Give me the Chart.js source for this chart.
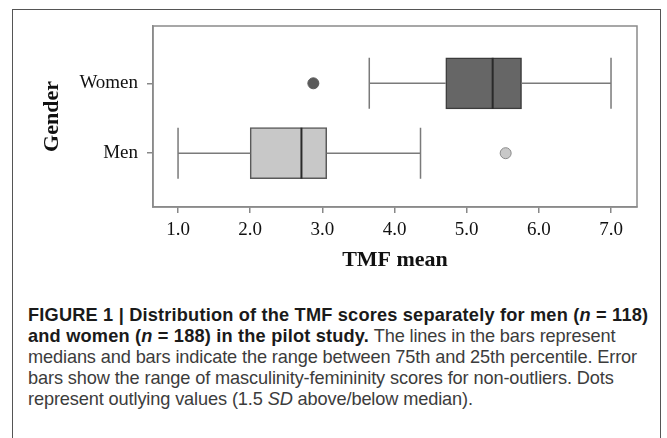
<!DOCTYPE html>
<html>
<head>
<meta charset="utf-8">
<script src="https://cdn.jsdelivr.net/npm/chart.js@4"></script>
<style>
  html, body { margin: 0; padding: 0; background: #fff; }
  #page { position: relative; width: 667px; height: 438px; overflow: hidden; }
  #frame { position: absolute; left: 12px; top: 9px; width: 649px; height: 470px; border: 1.5px solid #555; box-sizing: border-box; }
  #chart { position: absolute; left: 0; top: 0; }
  #caption { position: absolute; left: 28px; top: 305px; font-family: 'Liberation Sans', Arial, sans-serif; font-size: 18.2px; line-height: 21px; letter-spacing: -0.13px; color: #3c3c3c; white-space: nowrap; }
  #caption b { color: #1a1a1a; letter-spacing: 0.19px; }
</style>
</head>
<body>
<div id="page">
  <div id="frame"></div>
  <canvas id="chart" width="667" height="290"></canvas>
  <div id="caption">
    <b>FIGURE 1 | Distribution of the TMF scores separately for men (<i>n</i> = 118)</b><br>
    <b>and women (<i>n</i> = 188) in the pilot study.</b> The lines in the bars represent<br>
    medians and bars indicate the range between 75th and 25th percentile. Error<br>
    bars show the range of masculinity-femininity scores for non-outliers. Dots<br>
    represent outlying values (1.5 <i>SD</i> above/below median).
  </div>
</div>
<script>
// index in these arrays = position on the y axis (0 = Men, 1 = Women)
const genders = ['Men', 'Women'];
const mins = [1.0, 3.65];
const q1s = [2.0, 4.71];
const medians = [2.71, 5.36];
const q3s = [3.06, 5.76];
const maxs = [4.36, 7.0];
const outliers = [5.54, 2.875];
const xTicks = [1, 2, 3, 4, 5, 6, 7];

const serif = 'Liberation Serif';

// whiskers, caps, medians and the box round the plot
const boxPlotExtras = {
  id: 'boxPlotExtras',
  afterDatasetsDraw(chart) {
    const { ctx, chartArea, scales: { x, y } } = chart;
    const half = 25.5;
    ctx.save();
    genders.forEach((g, i) => {
      const cy = y.getPixelForValue(i);
      ctx.strokeStyle = '#7a7a7a';
      ctx.lineWidth = 1.5;
      ctx.beginPath();
      ctx.moveTo(x.getPixelForValue(mins[i]), cy);
      ctx.lineTo(x.getPixelForValue(q1s[i]), cy);
      ctx.moveTo(x.getPixelForValue(q3s[i]), cy);
      ctx.lineTo(x.getPixelForValue(maxs[i]), cy);
      [mins[i], maxs[i]].forEach(v => {
        const px = x.getPixelForValue(v);
        ctx.moveTo(px, cy - half);
        ctx.lineTo(px, cy + half);
      });
      ctx.stroke();

      ctx.strokeStyle = '#2a2a2a';
      ctx.lineWidth = 2;
      ctx.beginPath();
      const mx = x.getPixelForValue(medians[i]);
      ctx.moveTo(mx, cy - half);
      ctx.lineTo(mx, cy + half);
      ctx.stroke();
    });
    ctx.strokeStyle = '#8a8a8a';
    ctx.lineWidth = 1.5;
    ctx.strokeRect(chartArea.left, chartArea.top, chartArea.right - chartArea.left, chartArea.bottom - chartArea.top);
    ctx.restore();
  }
};

new Chart(document.getElementById('chart'), {
  type: 'bar',
  data: {
    datasets: [{
      indexAxis: 'y',
      data: genders.map((g, i) => ({ y: i, x: [q1s[i], q3s[i]] })),
      backgroundColor: ['#c8c8c8', '#666666'],
      borderColor: ['#5a5a5a', '#3c3c3c'],
      borderWidth: 1.5,
      borderSkipped: false,
      barThickness: 51
    }, {
      type: 'scatter',
      data: genders.map((g, i) => ({ x: outliers[i], y: i })),
      pointBackgroundColor: ['#c8c8c8', '#5a5a5a'],
      pointBorderColor: ['#8a8a8a', '#5a5a5a'],
      pointBorderWidth: 1,
      pointRadius: 5.5
    }]
  },
  options: {
    responsive: false,
    animation: false,
    layout: { padding: { left: 0, top: 26, right: 30, bottom: 0 } },
    plugins: { legend: { display: false }, tooltip: { enabled: false } },
    scales: {
      x: {
        type: 'linear',
        min: 0.653,
        max: 7.36,
        offset: false,
        afterBuildTicks: s => { s.ticks = xTicks.map(v => ({ value: v })); },
        afterFit: s => { s.height = 83; },
        grid: { drawOnChartArea: false, offset: false, tickLength: 6, color: '#888', lineWidth: 1.5 },
        border: { color: '#8a8a8a', width: 1.5 },
        ticks: {
          padding: 6,
          color: '#111',
          font: { family: serif, size: 19 },
          callback: v => v.toFixed(1)
        },
        title: {
          display: true,
          text: 'TMF mean',
          color: '#111',
          padding: { top: 0, bottom: 16 },
          font: { family: serif, size: 22, weight: 'bold' }
        }
      },
      y: {
        type: 'linear',
        min: -0.77,
        max: 1.82,
        offset: false,
        afterBuildTicks: s => { s.ticks = genders.map((g, i) => ({ value: i })); },
        afterFit: s => { s.width = 153; },
        grid: { drawOnChartArea: false, offset: false, tickLength: 6, color: '#888', lineWidth: 1.5 },
        border: { color: '#8a8a8a', width: 1.5 },
        ticks: {
          padding: 9,
          color: '#111',
          font: { family: serif, size: 19 },
          callback: v => genders[v]
        },
        title: {
          display: true,
          text: 'Gender',
          color: '#111',
          padding: { top: 39, bottom: 0 },
          font: { family: serif, size: 22, weight: 'bold' }
        }
      }
    }
  },
  plugins: [boxPlotExtras]
});
</script>
</body>
</html>
